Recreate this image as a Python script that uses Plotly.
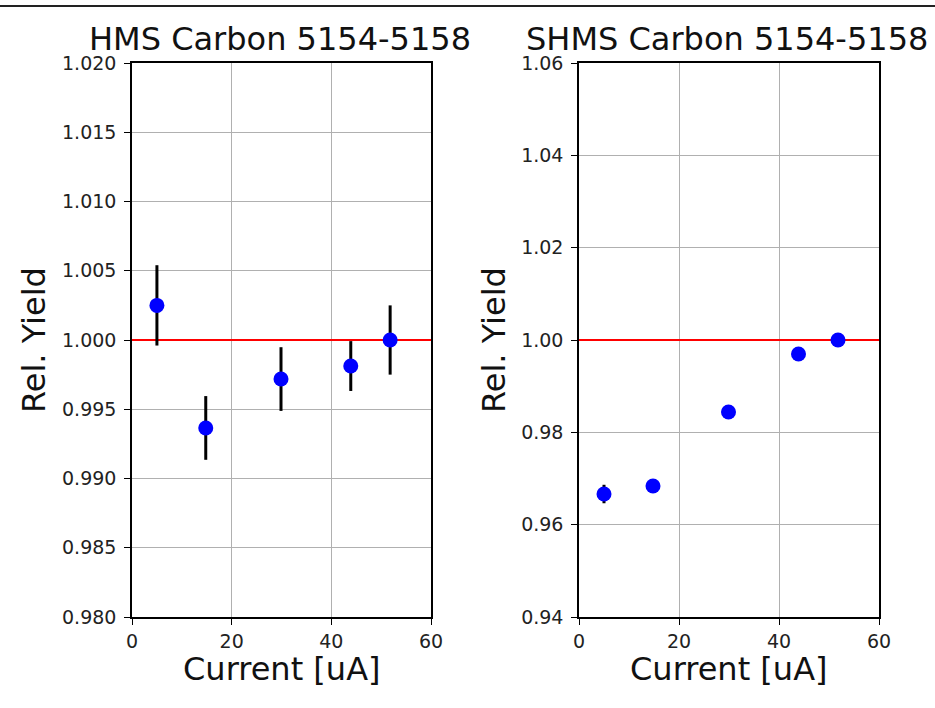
import plotly.graph_objects as go

current = [5.0, 14.8, 29.9, 43.9, 51.8]
hms_yield = [1.0025, 0.99365, 0.99718, 0.99812, 1.0000]
hms_err = [0.0029, 0.0023, 0.0023, 0.0018, 0.0025]
shms_yield = [0.96664, 0.96838, 0.98440, 0.99697, 1.0000]
shms_err = [0.0020, 0.0015, 0.0010, 0.0015, 0.0015]
reference_yield = 1.0
hms_ticks = [0.980, 0.985, 0.990, 0.995, 1.000, 1.005, 1.010, 1.015, 1.020]
shms_ticks = [0.94, 0.96, 0.98, 1.00, 1.02, 1.04, 1.06]
x_ticks = [0, 20, 40, 60]
titles = ["HMS Carbon 5154-5158", "SHMS Carbon 5154-5158"]
x_label = "Current [uA]"
y_label = "Rel. Yield"
FONT = "DejaVu Sans"

W, H = 935, 708
fig = go.Figure()
for i, (yv, ev) in enumerate([(hms_yield, hms_err), (shms_yield, shms_err)]):
    xa = "x" if i == 0 else "x2"
    ya = "y" if i == 0 else "y2"
    fig.add_trace(go.Scatter(
        x=[x_ticks[0], x_ticks[-1]], y=[reference_yield, reference_yield], mode="lines",
        line=dict(color="red", width=2.2), xaxis=xa, yaxis=ya, showlegend=False,
        hoverinfo="skip"))
    fig.add_trace(go.Scatter(
        x=current, y=yv, mode="markers",
        marker=dict(color="blue", size=15),
        error_y=dict(type="data", array=ev, visible=True, color="black", thickness=3, width=0),
        xaxis=xa, yaxis=ya, showlegend=False))

ydom = [1 - 617 / H, 1 - 63 / H]
axis_common = dict(showline=True, linecolor="black", linewidth=1.5, mirror=True,
                   showgrid=True, gridcolor="#b0b0b0", gridwidth=1,
                   ticks="outside", ticklen=6, tickcolor="black", tickwidth=1.2,
                   tickfont=dict(family=FONT, size=19, color="#222"), zeroline=False,
                   automargin=False)

fig.update_layout(
    width=W, height=H, plot_bgcolor="white", paper_bgcolor="white",
    margin=dict(l=0, r=0, t=0, b=0, pad=0), autosize=False,
    xaxis=dict(domain=[132 / W, 431 / W], range=[0, 60], tickvals=x_ticks, anchor="y",
               ticklabelstandoff=0, **axis_common),
    yaxis=dict(domain=ydom, range=[0.980, 1.020], tickvals=hms_ticks,
               ticktext=[f"{t:.3f}" for t in hms_ticks], anchor="x",
               ticklabelstandoff=4, **axis_common),
    xaxis2=dict(domain=[579 / W, 879 / W], range=[0, 60], tickvals=x_ticks, anchor="y2",
                ticklabelstandoff=0, **axis_common),
    yaxis2=dict(domain=ydom, range=[0.94, 1.06], tickvals=shms_ticks,
                ticktext=[f"{t:.2f}" for t in shms_ticks], anchor="x2",
                ticklabelstandoff=4, **axis_common),
)

big = dict(family=FONT, size=32, color="#111")
for cx, title in [(280, titles[0]), (727, titles[1])]:
    fig.add_annotation(text=title, x=cx / W, y=1 - 39 / H, xref="paper", yref="paper",
                       xanchor="center", yanchor="middle", showarrow=False, font=big)
for cx in [281.5, 729]:
    fig.add_annotation(text=x_label, x=cx / W, y=1 - 669 / H, xref="paper", yref="paper",
                       xanchor="center", yanchor="middle", showarrow=False, font=big)
for cx in [34, 494]:
    fig.add_annotation(text=y_label, x=cx / W, y=1 - 340 / H, xref="paper", yref="paper",
                       xanchor="center", yanchor="middle", showarrow=False, font=big,
                       textangle=-90)

fig.add_shape(type="line", xref="paper", yref="paper", x0=0, x1=1, y0=1 - 6 / H, y1=1 - 6 / H,
              line=dict(color="#222", width=2))

fig.write_html("out.html", config={"displayModeBar": False},
               post_script="document.body.style.margin='0';document.body.style.overflow='hidden';")
